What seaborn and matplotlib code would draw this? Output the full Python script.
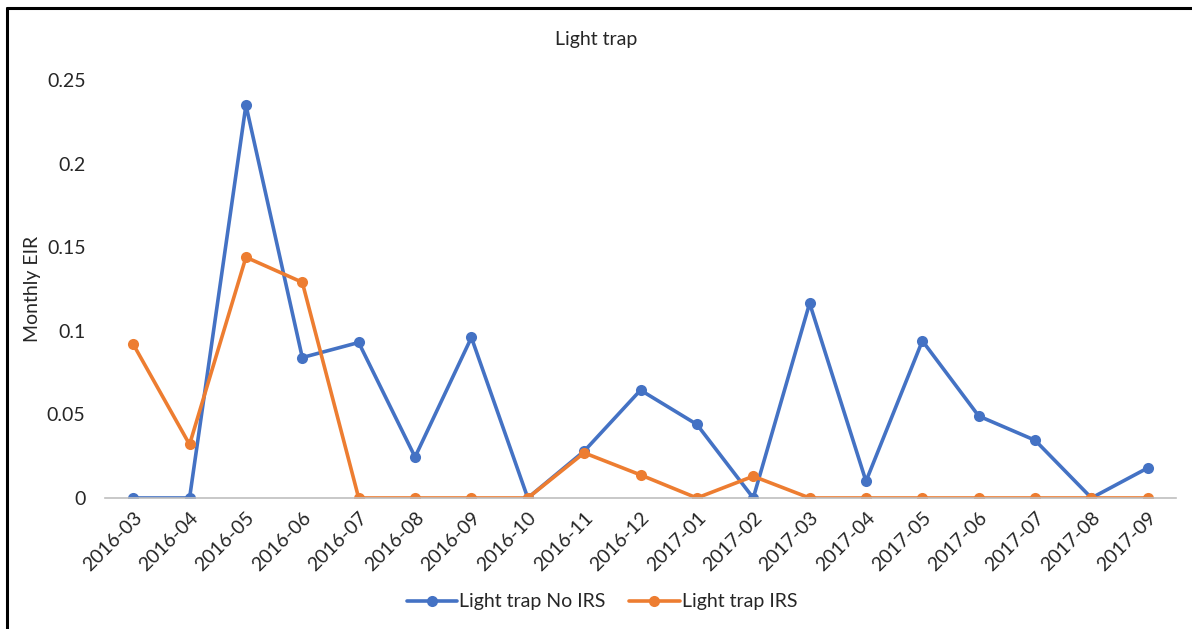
import pandas as pd
import matplotlib.pyplot as plt
import seaborn as sns
from matplotlib.lines import Line2D

# Monthly EIR
months = ['2016-03', '2016-04', '2016-05', '2016-06', '2016-07', '2016-08', '2016-09',
          '2016-10', '2016-11', '2016-12', '2017-01', '2017-02', '2017-03', '2017-04',
          '2017-05', '2017-06', '2017-07', '2017-08', '2017-09']
no_irs = [0, 0, 0.235, 0.084, 0.093, 0.0245, 0.096, 0, 0.028, 0.0645, 0.044, 0,
          0.1165, 0.010, 0.094, 0.049, 0.0345, 0, 0.018]
irs = [0.092, 0.032, 0.144, 0.129, 0, 0, 0, 0, 0.027, 0.0138, 0, 0.013,
       0, 0, 0, 0, 0, 0, 0]
series_names = ['Light trap No IRS', 'Light trap IRS']
colors = ['#4472C4', '#ED7D31']

df = pd.concat([
    pd.DataFrame({'Month': months, 'EIR': no_irs, 'Series': series_names[0]}),
    pd.DataFrame({'Month': months, 'EIR': irs, 'Series': series_names[1]}),
])

sns.set_style('white')
plt.rcParams['font.family'] = ['Lato', 'DejaVu Sans']

fig = plt.figure(figsize=(11.92, 6.29), dpi=100)
ax = fig.add_axes([0.0881, 0.2083, 0.8985, 0.6645])

sns.lineplot(data=df, x='Month', y='EIR', hue='Series', palette=colors,
             marker='o', markersize=8, markeredgewidth=0, linewidth=2.6,
             sort=False, ax=ax)

ax.set_xlim(-0.5, len(months) - 0.5)
ax.set_ylim(0, 0.25)
ax.set_yticks([0, 0.05, 0.1, 0.15, 0.2, 0.25])
ax.set_yticklabels(['0', '0.05', '0.1', '0.15', '0.2', '0.25'], fontsize=14)
ax.tick_params(axis='y', length=0, pad=14)
ax.tick_params(axis='x', length=0, pad=8)
plt.setp(ax.get_xticklabels(), rotation=45, ha='right', rotation_mode='anchor', fontsize=14)

for side in ['top', 'right', 'left']:
    ax.spines[side].set_visible(False)
ax.spines['bottom'].set_color('#BFBFBF')
ax.spines['bottom'].set_linewidth(1.2)

ax.set_xlabel('')
ax.set_ylabel('Monthly EIR', fontsize=14)
ax.yaxis.set_label_coords(-0.06, 0.5)
fig.suptitle('Light trap', x=0.5, y=0.95, fontsize=14)

handles, labels = ax.get_legend_handles_labels()
ax.legend(handles, labels, loc='center', bbox_to_anchor=(0.505, 1 - 602 / 629),
          bbox_transform=fig.transFigure, ncol=2, frameon=False, fontsize=14,
          handlelength=2.6, handletextpad=0.1, columnspacing=1.2)

# border on the left and top edges, like the source screenshot
fig.add_artist(Line2D([7 / 1192, 7 / 1192], [0, 1 - 8 / 629], color='black', linewidth=2.2))
fig.add_artist(Line2D([7 / 1192, 1], [1 - 8 / 629, 1 - 8 / 629], color='black', linewidth=2.2))

fig.savefig('out.png', dpi=100)
